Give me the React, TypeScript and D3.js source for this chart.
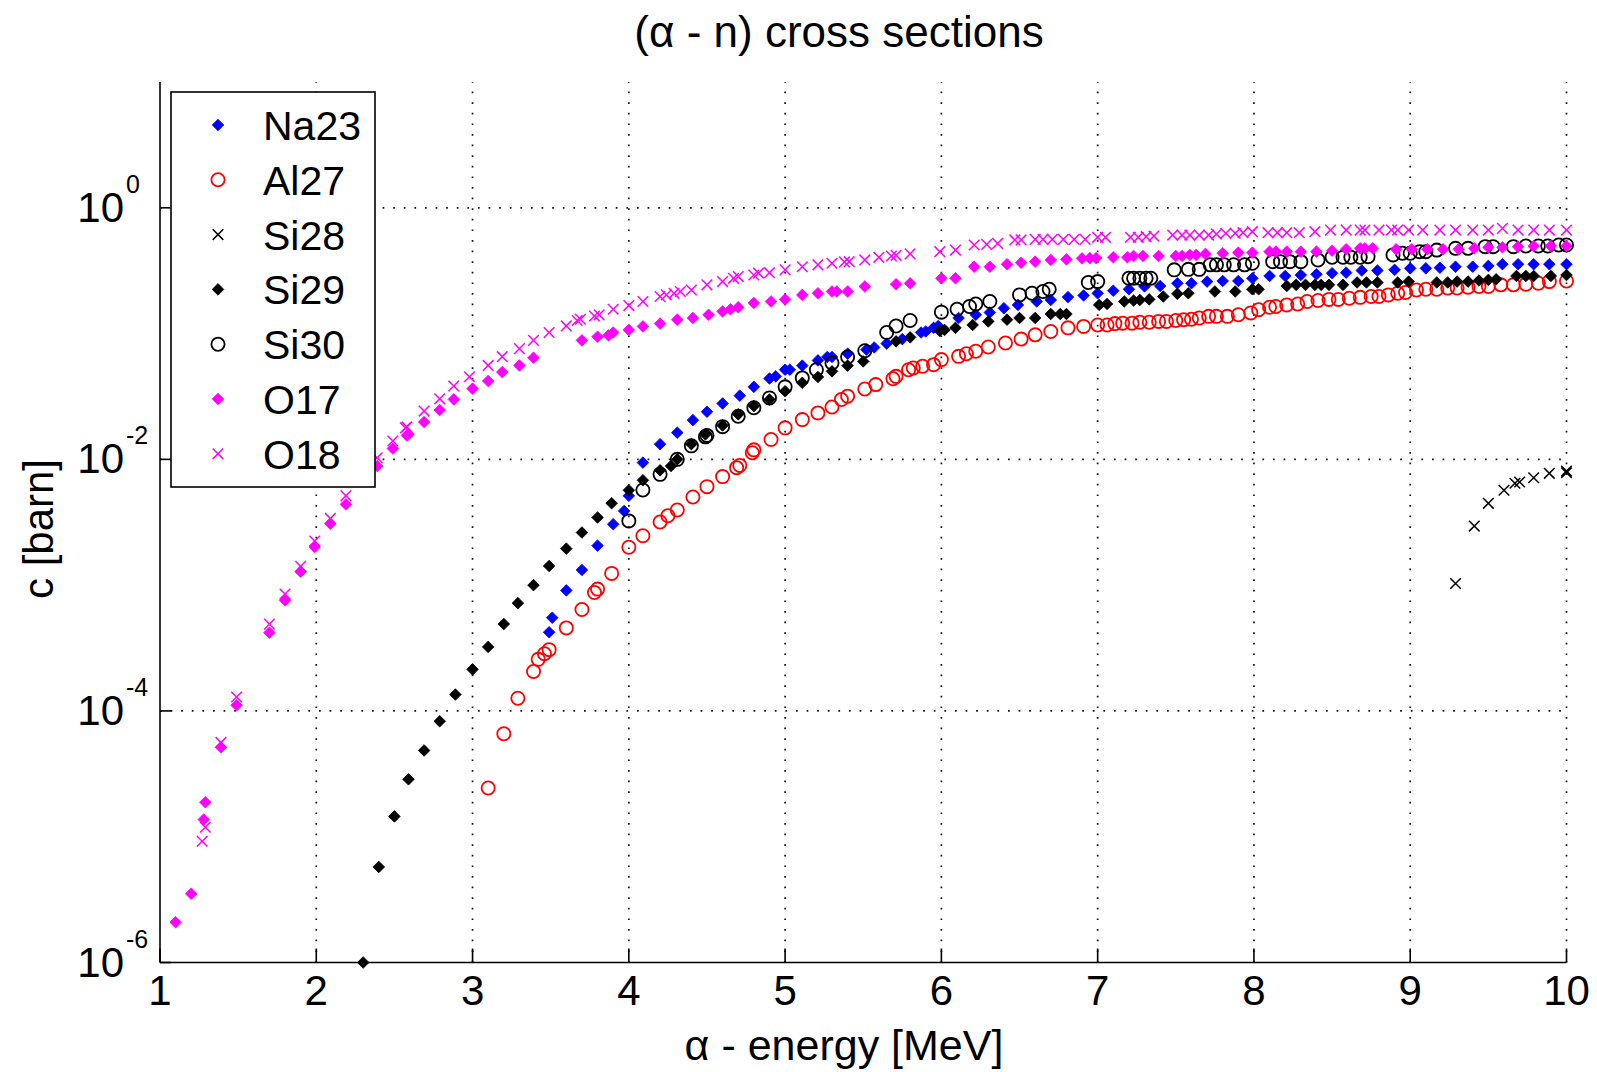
import React from "react";
import * as d3 from "d3";

// (alpha, n) cross sections: [energy MeV, sigma barn]
const na23: [number, number][] = [
  [3.49, 4.22e-4], [3.51, 5.51e-4], [3.6, 9.08e-4], [3.7, 1.32e-3], [3.8, 2.06e-3], [3.9, 3.05e-3],
  [3.97, 3.89e-3], [4.0, 5.13e-3], [4.09, 9.42e-3], [4.2, 0.0132], [4.31, 0.0163], [4.41, 0.0205],
  [4.5, 0.0239], [4.6, 0.0278], [4.71, 0.0321], [4.8, 0.0377], [4.9, 0.0439], [4.94, 0.0457],
  [5.0, 0.0516], [5.03, 0.0516], [5.11, 0.0556], [5.21, 0.0612], [5.27, 0.0652], [5.3, 0.0652],
  [5.4, 0.0692], [5.52, 0.0745], [5.57, 0.0776], [5.65, 0.0832], [5.75, 0.0904], [5.87, 0.102],
  [5.9, 0.104], [5.95, 0.111], [5.98, 0.115], [6.11, 0.133], [6.22, 0.141], [6.31, 0.147],
  [6.4, 0.159], [6.49, 0.169], [6.61, 0.18], [6.7, 0.185], [6.81, 0.195], [6.91, 0.201],
  [7.0, 0.209], [7.1, 0.219], [7.2, 0.225], [7.3, 0.237], [7.4, 0.239], [7.51, 0.251],
  [7.6, 0.251], [7.7, 0.259], [7.8, 0.262], [7.9, 0.262], [7.99, 0.275], [8.1, 0.287],
  [8.2, 0.287], [8.3, 0.292], [8.4, 0.296], [8.5, 0.302], [8.59, 0.305], [8.69, 0.317],
  [8.79, 0.317], [8.9, 0.321], [9.0, 0.33], [9.1, 0.33], [9.19, 0.334], [9.29, 0.34],
  [9.4, 0.34], [9.5, 0.345], [9.59, 0.356], [9.69, 0.356], [9.79, 0.356], [9.89, 0.356], [10.0, 0.356],
];

const al27: [number, number][] = [
  [3.1, 2.44e-5], [3.2, 6.58e-5], [3.29, 1.26e-4], [3.39, 2.06e-4], [3.42, 2.57e-4], [3.46, 2.85e-4],
  [3.49, 3.07e-4], [3.6, 4.57e-4], [3.7, 6.41e-4], [3.78, 8.75e-4], [3.8, 9.3e-4], [3.89, 1.24e-3],
  [4.0, 2.0e-3], [4.09, 2.47e-3], [4.2, 3.18e-3], [4.25, 3.56e-3], [4.31, 3.96e-3], [4.41, 5.02e-3],
  [4.5, 6.07e-3], [4.6, 7.29e-3], [4.69, 8.59e-3], [4.71, 8.95e-3], [4.79, 0.0113], [4.8, 0.0119],
  [4.91, 0.0144], [5.0, 0.0178], [5.11, 0.0207], [5.21, 0.0234], [5.3, 0.0261], [5.36, 0.0299],
  [5.4, 0.0318], [5.51, 0.0363], [5.58, 0.0393], [5.69, 0.0437], [5.71, 0.0457], [5.79, 0.0516],
  [5.82, 0.0533], [5.88, 0.055], [5.95, 0.0566], [6.0, 0.0621], [6.11, 0.0659], [6.16, 0.0692],
  [6.22, 0.0723], [6.3, 0.0782], [6.41, 0.0841], [6.51, 0.0904], [6.6, 0.0977], [6.7, 0.104],
  [6.81, 0.111], [6.91, 0.114], [7.0, 0.117], [7.06, 0.117], [7.11, 0.12], [7.16, 0.121],
  [7.22, 0.121], [7.27, 0.123], [7.33, 0.123], [7.39, 0.125], [7.44, 0.125], [7.5, 0.127],
  [7.55, 0.129], [7.6, 0.13], [7.65, 0.133], [7.71, 0.137], [7.76, 0.137], [7.83, 0.137],
  [7.9, 0.141], [7.98, 0.146], [8.03, 0.155], [8.1, 0.162], [8.14, 0.164], [8.21, 0.169],
  [8.28, 0.172], [8.34, 0.18], [8.41, 0.183], [8.48, 0.187], [8.54, 0.187], [8.61, 0.191],
  [8.68, 0.194], [8.75, 0.197], [8.8, 0.197], [8.86, 0.203], [8.92, 0.209], [8.97, 0.212],
  [9.04, 0.222], [9.1, 0.225], [9.17, 0.225], [9.24, 0.23], [9.3, 0.23], [9.37, 0.234],
  [9.44, 0.237], [9.5, 0.237], [9.58, 0.244], [9.66, 0.244], [9.74, 0.247], [9.82, 0.251],
  [9.89, 0.259], [10.0, 0.262],
];

const si28: [number, number][] = [
  [9.29, 1.03e-3], [9.41, 2.95e-3], [9.5, 4.47e-3], [9.6, 5.68e-3], [9.67, 6.46e-3], [9.7, 6.61e-3],
  [9.79, 7.14e-3], [9.89, 7.74e-3], [10.0, 8.07e-3], [10.0, 7.83e-3],
];

const si29: [number, number][] = [
  [2.3, 1.0e-6], [2.4, 5.75e-6], [2.5, 1.45e-5], [2.59, 2.86e-5], [2.69, 4.85e-5], [2.79, 8.28e-5],
  [2.89, 1.35e-4], [3.0, 2.14e-4], [3.1, 3.23e-4], [3.2, 4.91e-4], [3.29, 7.19e-4], [3.39, 1.0e-3],
  [3.49, 1.42e-3], [3.6, 1.95e-3], [3.7, 2.62e-3], [3.8, 3.45e-3], [3.89, 4.48e-3], [4.0, 5.68e-3],
  [4.09, 6.82e-3], [4.2, 8.18e-3], [4.27, 8.85e-3], [4.31, 0.01], [4.4, 0.0132], [4.49, 0.0158],
  [4.6, 0.0186], [4.7, 0.0228], [4.8, 0.0265], [4.9, 0.0299], [5.0, 0.0348], [5.11, 0.0406],
  [5.21, 0.0452], [5.3, 0.0501], [5.4, 0.0556], [5.5, 0.0601], [5.71, 0.0867], [5.8, 0.0933],
  [5.99, 0.105], [6.02, 0.107], [6.09, 0.111], [6.2, 0.117], [6.3, 0.125], [6.42, 0.129],
  [6.5, 0.133], [6.6, 0.133], [6.7, 0.143], [6.76, 0.143], [6.8, 0.143], [7.01, 0.169],
  [7.06, 0.172], [7.17, 0.18], [7.23, 0.183], [7.27, 0.185], [7.33, 0.187], [7.42, 0.197],
  [7.51, 0.207], [7.58, 0.209], [7.75, 0.216], [7.88, 0.216], [7.99, 0.225], [8.03, 0.225],
  [8.21, 0.239], [8.27, 0.244], [8.33, 0.244], [8.39, 0.244], [8.43, 0.244], [8.48, 0.244],
  [8.57, 0.244], [8.66, 0.255], [8.72, 0.255], [8.79, 0.255], [8.92, 0.255], [8.99, 0.259],
  [9.17, 0.255], [9.24, 0.255], [9.3, 0.259], [9.37, 0.259], [9.44, 0.264], [9.5, 0.267],
  [9.55, 0.27], [9.68, 0.287], [9.74, 0.287], [9.79, 0.287], [9.9, 0.287], [10.0, 0.292],
];

const si30: [number, number][] = [
  [4.0, 3.24e-3], [4.09, 5.71e-3], [4.2, 7.6e-3], [4.31, 0.01], [4.4, 0.0128], [4.49, 0.0151],
  [4.5, 0.0155], [4.6, 0.0182], [4.7, 0.022], [4.8, 0.0257], [4.9, 0.0308], [5.0, 0.0377],
  [5.11, 0.0444], [5.2, 0.0516], [5.3, 0.0583], [5.4, 0.0652], [5.51, 0.0731], [5.65, 0.102],
  [5.71, 0.115], [5.8, 0.127], [6.0, 0.148], [6.1, 0.156], [6.18, 0.164], [6.22, 0.172],
  [6.31, 0.18], [6.5, 0.203], [6.58, 0.209], [6.65, 0.216], [6.69, 0.225], [6.94, 0.255],
  [7.0, 0.259], [7.2, 0.275], [7.23, 0.275], [7.27, 0.275], [7.31, 0.275], [7.34, 0.275],
  [7.49, 0.321], [7.58, 0.324], [7.65, 0.324], [7.72, 0.352], [7.76, 0.352], [7.81, 0.352],
  [7.87, 0.352], [7.94, 0.352], [7.99, 0.362], [8.12, 0.373], [8.17, 0.373], [8.23, 0.373],
  [8.3, 0.373], [8.41, 0.385], [8.5, 0.404], [8.57, 0.404], [8.62, 0.404], [8.68, 0.404],
  [8.73, 0.409], [8.89, 0.422], [8.95, 0.435], [9.0, 0.435], [9.06, 0.448], [9.1, 0.448],
  [9.17, 0.461], [9.29, 0.476], [9.37, 0.476], [9.48, 0.491], [9.53, 0.491], [9.66, 0.491],
  [9.74, 0.497], [9.82, 0.497], [9.88, 0.497], [9.95, 0.506], [10.0, 0.506],
];

const o17: [number, number][] = [
  [1.1, 2.09e-6], [1.2, 3.52e-6], [1.28, 1.37e-5], [1.29, 1.88e-5], [1.39, 5.14e-5], [1.49, 1.11e-4],
  [1.7, 4.19e-4], [1.8, 7.57e-4], [1.9, 1.28e-3], [1.99, 2.01e-3], [2.09, 3.08e-3], [2.19, 4.39e-3],
  [2.39, 8.85e-3], [2.49, 0.0122], [2.58, 0.0155], [2.59, 0.0158], [2.69, 0.0198], [2.79, 0.0247],
  [2.88, 0.03], [3.0, 0.0365], [3.1, 0.042], [3.19, 0.0494], [3.3, 0.0558], [3.39, 0.0643],
  [3.7, 0.0883], [3.8, 0.0944], [3.87, 0.0968], [3.9, 0.102], [4.0, 0.107], [4.09, 0.114],
  [4.2, 0.12], [4.31, 0.129], [4.41, 0.133], [4.51, 0.141], [4.6, 0.15], [4.65, 0.156],
  [4.7, 0.162], [4.8, 0.175], [4.91, 0.18], [5.0, 0.187], [5.11, 0.203], [5.21, 0.209],
  [5.3, 0.216], [5.33, 0.216], [5.4, 0.216], [5.51, 0.237], [5.71, 0.247], [5.8, 0.251],
  [6.0, 0.275], [6.09, 0.275], [6.21, 0.34], [6.31, 0.34], [6.42, 0.356], [6.51, 0.366],
  [6.6, 0.373], [6.7, 0.385], [6.8, 0.389], [6.9, 0.396], [6.95, 0.398], [6.99, 0.398],
  [7.1, 0.404], [7.19, 0.404], [7.23, 0.414], [7.29, 0.414], [7.39, 0.414], [7.5, 0.414],
  [7.54, 0.414], [7.59, 0.422], [7.63, 0.422], [7.69, 0.43], [7.8, 0.435], [7.9, 0.44],
  [7.99, 0.44], [8.1, 0.448], [8.14, 0.448], [8.21, 0.448], [8.3, 0.448], [8.4, 0.448],
  [8.5, 0.456], [8.59, 0.468], [8.68, 0.476], [8.71, 0.476], [8.76, 0.476], [8.91, 0.468],
  [9.01, 0.468], [9.11, 0.468], [9.21, 0.468], [9.31, 0.468], [9.41, 0.476], [9.5, 0.485],
  [9.59, 0.485], [9.69, 0.491], [9.79, 0.497], [9.9, 0.497], [10.0, 0.497],
];

const o18: [number, number][] = [
  [1.27, 9.2e-6], [1.29, 1.19e-5], [1.39, 5.62e-5], [1.49, 1.29e-4], [1.7, 4.9e-4], [1.8, 8.5e-4],
  [1.9, 1.41e-3], [1.99, 2.24e-3], [2.09, 3.39e-3], [2.19, 5.13e-3], [2.39, 0.0103], [2.49, 0.014],
  [2.57, 0.0178], [2.58, 0.0181], [2.69, 0.0242], [2.79, 0.0303], [2.88, 0.0383], [2.98, 0.0454],
  [3.1, 0.0558], [3.19, 0.0655], [3.3, 0.0759], [3.39, 0.0883], [3.49, 0.102], [3.6, 0.115],
  [3.67, 0.127], [3.69, 0.13], [3.78, 0.138], [3.81, 0.141], [3.9, 0.156], [4.0, 0.167],
  [4.09, 0.18], [4.2, 0.197], [4.24, 0.203], [4.29, 0.209], [4.33, 0.216], [4.4, 0.222],
  [4.5, 0.244], [4.6, 0.259], [4.67, 0.275], [4.7, 0.284], [4.8, 0.292], [4.83, 0.302],
  [4.9, 0.305], [5.0, 0.321], [5.11, 0.34], [5.21, 0.352], [5.3, 0.362], [5.38, 0.371],
  [5.41, 0.373], [5.51, 0.385], [5.6, 0.404], [5.68, 0.414], [5.71, 0.419], [5.8, 0.43],
  [5.99, 0.448], [6.09, 0.461], [6.21, 0.506], [6.29, 0.512], [6.36, 0.521], [6.47, 0.555],
  [6.51, 0.555], [6.6, 0.561], [6.65, 0.561], [6.71, 0.561], [6.78, 0.561], [6.85, 0.561],
  [6.92, 0.561], [7.0, 0.582], [7.05, 0.582], [7.21, 0.582], [7.26, 0.582], [7.31, 0.589],
  [7.36, 0.596], [7.48, 0.607], [7.54, 0.607], [7.59, 0.607], [7.65, 0.607], [7.71, 0.607],
  [7.76, 0.618], [7.82, 0.627], [7.88, 0.627], [7.93, 0.634], [7.99, 0.646], [8.09, 0.634],
  [8.15, 0.634], [8.21, 0.634], [8.29, 0.634], [8.39, 0.646], [8.49, 0.665], [8.59, 0.665],
  [8.68, 0.665], [8.71, 0.665], [8.8, 0.665], [8.88, 0.665], [8.92, 0.665], [8.99, 0.665],
  [9.08, 0.665], [9.19, 0.665], [9.29, 0.665], [9.4, 0.665], [9.5, 0.665], [9.59, 0.686],
  [9.69, 0.665], [9.79, 0.665], [9.89, 0.665], [10.0, 0.665],
];

const xTicks = [1, 2, 3, 4, 5, 6, 7, 8, 9, 10];
const yTicks = [1e-6, 1e-4, 1e-2, 1];
const yTickExponents = ["-6", "-4", "-2", "0"];

type Kind = "diamond" | "circle" | "cross";
const series: { name: string; data: [number, number][]; color: string; kind: Kind }[] = [
  { name: "Na23", data: na23, color: "#0000ff", kind: "diamond" },
  { name: "Al27", data: al27, color: "#ff0000", kind: "circle" },
  { name: "Si28", data: si28, color: "#000000", kind: "cross" },
  { name: "Si29", data: si29, color: "#000000", kind: "diamond" },
  { name: "Si30", data: si30, color: "#000000", kind: "circle" },
  { name: "O17", data: o17, color: "#ff00ff", kind: "diamond" },
  { name: "O18", data: o18, color: "#ff00ff", kind: "cross" },
];

const W = 1597;
const H = 1072;
const left = 160;
const right = 1566.5;
const top = 82;
const bottom = 962.5;
const font = "'Liberation Sans', Arial, Helvetica, sans-serif";

const x = d3.scaleLinear().domain([1, 10]).range([left, right]);
const y = d3.scaleLog().domain([1e-6, 10]).range([bottom, top]);

const Marker = ({ cx, cy, kind, color }: { cx: number; cy: number; kind: Kind; color: string }) => {
  if (kind === "diamond") {
    const r = 5.8;
    return <path d={`M${cx},${cy - r}L${cx + r},${cy}L${cx},${cy + r}L${cx - r},${cy}Z`} fill={color} stroke={color} strokeWidth={0.8} />;
  }
  if (kind === "circle") {
    return <circle cx={cx} cy={cy} r={6.6} fill="none" stroke={color} strokeWidth={1.8} />;
  }
  const r = 5.3;
  return (
    <path
      d={`M${cx - r},${cy - r}L${cx + r},${cy + r}M${cx - r},${cy + r}L${cx + r},${cy - r}`}
      stroke={color}
      strokeWidth={1.5}
      fill="none"
    />
  );
};

const App = () => {
  const gridStyle = { stroke: "#111", strokeWidth: 1.7, strokeDasharray: "1.7 8.9" };
  const legendRows = series.map((s, i) => ({ ...s, cy: 125 + i * 54.8 }));

  return (
    <svg
      width={W}
      height={H}
      viewBox={`0 0 ${W} ${H}`}
      style={{ position: "absolute", left: 0, top: 0, background: "#fff" }}
      fontFamily={font}
    >
      <rect width={W} height={H} fill="#fff" />

      {/* grid */}
      {xTicks.slice(1).map((t) => (
        <line key={`gx${t}`} x1={x(t)} x2={x(t)} y1={bottom} y2={top} {...gridStyle} />
      ))}
      {yTicks.slice(1).map((t) => (
        <line key={`gy${t}`} x1={left} x2={right} y1={y(t)} y2={y(t)} {...gridStyle} />
      ))}

      {/* axes */}
      <line x1={left} x2={left} y1={top} y2={bottom} stroke="#000" strokeWidth={1.6} />
      <line x1={left} x2={right} y1={bottom} y2={bottom} stroke="#000" strokeWidth={1.6} />
      {xTicks.map((t) => (
        <g key={`xt${t}`}>
          <line x1={x(t)} x2={x(t)} y1={bottom} y2={bottom - 14} stroke="#000" strokeWidth={1.6} />
          <text x={x(t)} y={bottom + 42} textAnchor="middle" fontSize={42}>
            {t}
          </text>
        </g>
      ))}
      {yTicks.map((t, i) => (
        <g key={`yt${t}`}>
          <line x1={left} x2={left + 11} y1={y(t)} y2={y(t)} stroke="#000" strokeWidth={1.6} />
          <text x={124} y={y(t) + 14} textAnchor="end" fontSize={42}>
            10
          </text>
          <text x={126} y={y(t) - 15} fontSize={25}>
            {yTickExponents[i]}
          </text>
        </g>
      ))}

      {/* data */}
      {series.map((s) => (
        <g key={s.name}>
          {s.data.map(([e, v], j) => (
            <Marker key={j} cx={x(e)} cy={y(v)} kind={s.kind} color={s.color} />
          ))}
        </g>
      ))}

      {/* legend */}
      <rect x={171} y={92} width={204} height={395} fill="#fff" stroke="#000" strokeWidth={1.6} />
      {legendRows.map((s) => (
        <g key={`lg${s.name}`}>
          <Marker cx={218} cy={s.cy} kind={s.kind} color={s.color} />
          <text x={263} y={s.cy + 15} fontSize={41}>
            {s.name}
          </text>
        </g>
      ))}

      {/* labels */}
      <text x={839} y={47} textAnchor="middle" fontSize={44}>
        (α - n) cross sections
      </text>
      <text x={844} y={1060} textAnchor="middle" fontSize={43}>
        α - energy [MeV]
      </text>
      <text transform="translate(53,529) rotate(-90)" textAnchor="middle" fontSize={42}>
        c [barn]
      </text>
    </svg>
  );
};

export default App;
